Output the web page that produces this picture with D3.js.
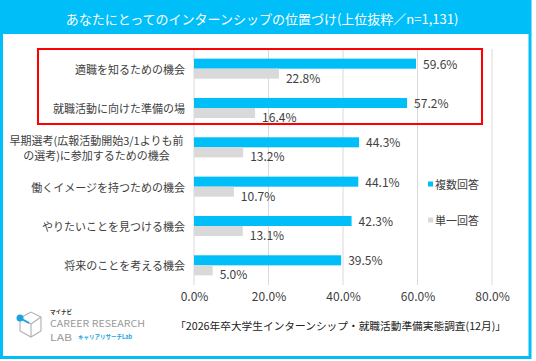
<!DOCTYPE html>
<html>
<head>
<meta charset="utf-8">
<script src="https://cdn.jsdelivr.net/npm/d3@7"></script>
<style>
    body { margin: 0; background: #fff; }
    svg text { font-family: "Noto Sans CJK JP", "Noto Sans", sans-serif; }
</style>
</head>
<body>
<svg width="536" height="361"></svg>
<script>
// chart values
const categories = [
    ["適職を知るための機会"],
    ["就職活動に向けた準備の場"],
    ["早期選考(広報活動開始3/1よりも前", "の選考)に参加するための機会"],
    ["働くイメージを持つための機会"],
    ["やりたいことを見つける機会"],
    ["将来のことを考える機会"]
];
const multiValues = [59.6, 57.2, 44.3, 44.1, 42.3, 39.5];
const singleValues = [22.8, 16.4, 13.2, 10.7, 13.1, 5.0];
const seriesNames = ["複数回答", "単一回答"];
const xTicks = [0, 20, 40, 60, 80];

const blue = "#00BEF8";
const gray = "#D9D9D9";
const textCol = "#404040";

let svg = d3.select("svg"),
    width = +svg.attr("width"),
    height = +svg.attr("height");

// frame + title band
svg.append("rect")
    .attr("x", 0).attr("y", 0).attr("width", 531).attr("height", 34)
    .attr("fill", blue);
svg.append("rect")
    .attr("x", 1.5).attr("y", 1.5).attr("width", 528.5).attr("height", 356)
    .attr("fill", "none").attr("stroke", blue).attr("stroke-width", 3);
svg.append("text")
    .attr("x", 262).attr("y", 18)
    .attr("text-anchor", "middle").attr("dominant-baseline", "central")
    .attr("fill", "#fff").attr("font-size", 13)
    .text("あなたにとってのインターンシップの位置づけ(上位抜粋／n=1,131)");

const rows = categories.map(function (c, i) {
    return {label: c, values: [multiValues[i], singleValues[i]]};
});

let x = d3.scaleLinear().domain([0, 80]).range([194, 492]);
let y = d3.scaleBand().domain(d3.range(rows.length)).range([49, 285])
    .paddingInner(0.49).paddingOuter(0.245);
let ySub = d3.scaleBand().domain([0, 1]).range([0, y.bandwidth()]);

// gridlines
svg.append("g")
    .selectAll("line")
    .data(xTicks)
    .enter()
    .append("line")
    .attr("x1", d => x(d)).attr("x2", d => x(d))
    .attr("y1", 49).attr("y2", 285)
    .attr("stroke", gray).attr("stroke-width", 1);

// x axis labels
let xAxis = d3.axisBottom(x).tickValues(xTicks).tickSize(0).tickPadding(0)
    .tickFormat(d => d.toFixed(1) + "%");
let gx = svg.append("g").attr("transform", "translate(0,292)").call(xAxis);
gx.select(".domain").remove();
gx.selectAll("text")
    .attr("fill", textCol).attr("font-size", 12)
    .attr("font-family", "\"Noto Sans CJK JP\", sans-serif");

// bars
let groups = svg.append("g")
    .selectAll("g")
    .data(rows)
    .enter()
    .append("g")
    .attr("transform", (d, i) => "translate(0," + y(i) + ")");

groups.selectAll("rect")
    .data(d => d.values)
    .enter()
    .append("rect")
    .attr("x", x(0))
    .attr("y", (d, j) => ySub(j))
    .attr("width", d => x(d) - x(0))
    .attr("height", ySub.bandwidth())
    .attr("fill", (d, j) => j === 0 ? blue : gray);

groups.selectAll("text.val")
    .data(d => d.values)
    .enter()
    .append("text")
    .attr("class", "val")
    .attr("x", d => x(d) + 7)
    .attr("y", (d, j) => ySub(j) + ySub.bandwidth() / 2 + (j === 0 ? -0.5 : 3.5))
    .attr("dominant-baseline", "central")
    .attr("fill", textCol).attr("font-size", 12)
    .text(d => d.toFixed(1) + "%");

// category labels
groups.each(function (d) {
    let g = d3.select(this);
    let mid = y.bandwidth() / 2;
    if (d.label.length === 1) {
        g.append("text")
            .attr("x", 185).attr("y", mid)
            .attr("text-anchor", "end").attr("dominant-baseline", "central")
            .attr("fill", textCol).attr("font-size", 11)
            .text(d.label[0]);
    } else {
        let t = g.append("text")
            .attr("fill", textCol).attr("font-size", 11)
            .attr("text-anchor", "middle").attr("dominant-baseline", "central");
        d.label.forEach(function (line, k) {
            t.append("tspan").attr("x", 96.5).attr("y", mid - 7.5 + k * 15).text(line);
        });
    }
});

// red highlight box
svg.append("rect")
    .attr("x", 38).attr("y", 49).attr("width", 444).attr("height", 75)
    .attr("fill", "none").attr("stroke", "#FF0000").attr("stroke-width", 2);

// legend
let legend = svg.append("g")
    .selectAll("g")
    .data(seriesNames)
    .enter()
    .append("g")
    .attr("transform", (d, i) => "translate(428," + (184 + i * 36) + ")");
legend.append("rect")
    .attr("x", 0).attr("y", -2.5).attr("width", 5).attr("height", 5)
    .attr("fill", (d, i) => i === 0 ? blue : gray);
legend.append("text")
    .attr("x", 7).attr("y", 0).attr("dominant-baseline", "central")
    .attr("fill", textCol).attr("font-size", 11)
    .text(d => d);

// source note
svg.append("text")
    .attr("x", 506).attr("y", 325)
    .attr("text-anchor", "end").attr("dominant-baseline", "central")
    .attr("fill", "#222").attr("font-size", 10.7)
    .text("「2026年卒大学生インターンシップ・就職活動準備実態調査(12月)」");

// logo
let logo = svg.append("g");
logo.append("path")
    .attr("d", "M20,318 L31,312 L41,317 L41,331 L31,337 L20,331 Z M20,318 L31,324 L41,317 M31,324 L31,337")
    .attr("fill", "none").attr("stroke", "#B0B0B0").attr("stroke-width", 1.1);
logo.append("circle")
    .attr("cx", 20).attr("cy", 318).attr("r", 3.5).attr("fill", "#1AA3E0");
logo.append("line")
    .attr("x1", 20).attr("y1", 318).attr("x2", 29).attr("y2", 323)
    .attr("stroke", "#1AA3E0").attr("stroke-width", 2);
logo.append("text")
    .attr("x", 50).attr("y", 312).attr("font-size", 5.5).attr("font-weight", "bold")
    .attr("fill", "#333").attr("dominant-baseline", "central").text("マイナビ");
logo.append("text")
    .attr("x", 50).attr("y", 323).attr("font-size", 9.5)
    .attr("textLength", 95).attr("lengthAdjust", "spacingAndGlyphs")
    .attr("font-family", "Lato, sans-serif")
    .attr("fill", "#9A9A9A").attr("dominant-baseline", "central").text("CAREER RESEARCH");
logo.append("text")
    .attr("x", 50).attr("y", 337).attr("font-size", 9.5)
    .attr("textLength", 22).attr("lengthAdjust", "spacingAndGlyphs")
    .attr("font-family", "Lato, sans-serif")
    .attr("fill", "#9A9A9A").attr("dominant-baseline", "central").text("LAB");
logo.append("text")
    .attr("x", 78).attr("y", 337).attr("font-size", 5.5).attr("font-weight", "bold")
    .attr("fill", "#1AA3E0").attr("dominant-baseline", "central").text("キャリアリサーチLab");
</script>
</body>
</html>
